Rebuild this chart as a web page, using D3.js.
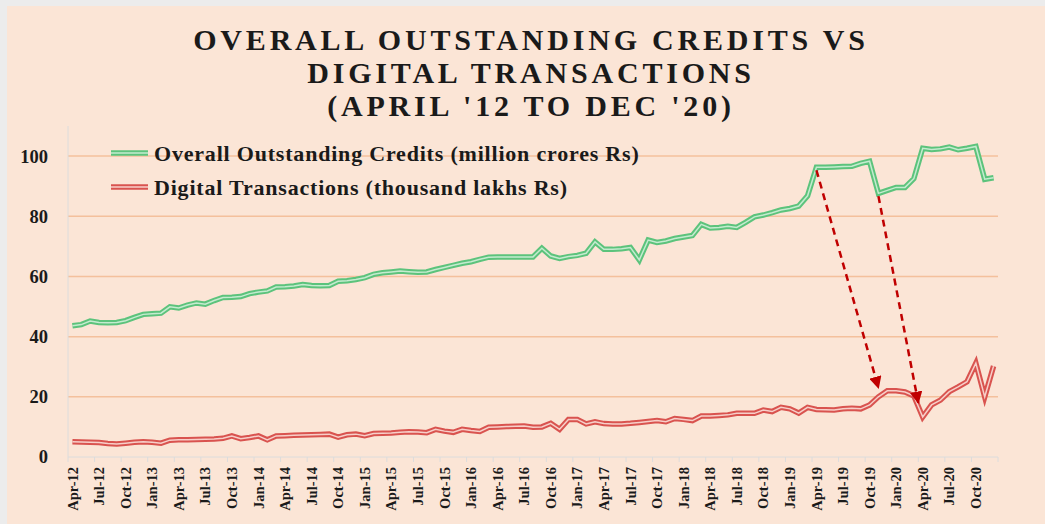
<!DOCTYPE html>
<html>
<head>
<meta charset="utf-8">
<script src="https://cdn.jsdelivr.net/npm/d3@7"></script>
<style>
  html, body { margin: 0; padding: 0; background: #ececec; }
  svg { display: block; }
  text { font-family: "Liberation Serif", "Times New Roman", serif; font-weight: bold; fill: #1a1a1a; }
</style>
</head>
<body>
<script>
// months Apr-12 .. Dec-20
const months = d3.timeMonths(new Date(2012, 3, 1), new Date(2021, 0, 1)).map(d3.timeFormat("%b-%y"));

const tickLabels = ["Apr-12", "Jul-12", "Oct-12", "Jan-13", "Apr-13", "Jul-13", "Oct-13", "Jan-14", "Apr-14",
    "Jul-14", "Oct-14", "Jan-15", "Apr-15", "Jul-15", "Oct-15", "Jan-16", "Apr-16", "Jul-16", "Oct-16",
    "Jan-17", "Apr-17", "Jul-17", "Oct-17", "Jan-18", "Apr-18", "Jul-18", "Oct-18", "Jan-19", "Apr-19",
    "Jul-19", "Oct-19", "Jan-20", "Apr-20", "Jul-20", "Oct-20"];

const yTicks = [0, 20, 40, 60, 80, 100];

const credits = [
    43.6, 44.0, 45.2, 44.7, 44.6, 44.7, 45.3, 46.4, 47.4, 47.6,
    47.8, 49.9, 49.5, 50.5, 51.2, 50.8, 52.0, 53.0, 53.1, 53.3,
    54.3, 54.8, 55.2, 56.5, 56.6, 56.8, 57.3, 57.0, 56.9, 57.0,
    58.4, 58.6, 59.0, 59.6, 60.7, 61.2, 61.5, 61.8, 61.6, 61.4,
    61.5, 62.3, 63.0, 63.7, 64.4, 64.9, 65.7, 66.4, 66.5, 66.5,
    66.5, 66.5, 66.5, 69.4, 66.8, 66.0, 66.6, 67.0, 67.7, 71.5,
    69.0, 69.0, 69.2, 69.6, 65.5, 72.1, 71.3, 71.8, 72.6, 73.1,
    73.6, 77.3, 76.1, 76.3, 76.7, 76.3, 78.0, 79.8, 80.4, 81.2,
    82.1, 82.6, 83.4, 86.8, 96.3, 96.3, 96.4, 96.5, 96.6, 97.6,
    98.3, 87.6, 88.6, 89.6, 89.6, 92.5, 102.6, 102.2, 102.4, 103.0,
    102.1, 102.6, 103.2, 92.3, 92.8
];

const digital = [
    5.1, 5.0, 4.9, 4.8, 4.5, 4.3, 4.6, 4.9, 5.1, 4.9,
    4.6, 5.6, 5.7, 5.7, 5.8, 5.9, 6.0, 6.2, 7.0, 6.1,
    6.5, 7.0, 5.7, 7.0, 7.1, 7.2, 7.3, 7.4, 7.5, 7.6,
    6.6, 7.4, 7.6, 7.1, 7.8, 7.9, 8.0, 8.2, 8.4, 8.3,
    8.1, 9.2, 8.6, 8.2, 9.2, 8.8, 8.5, 9.9, 10.0, 10.1,
    10.2, 10.3, 9.9, 10.0, 11.2, 9.2, 12.5, 12.5, 11.0, 11.7,
    11.1, 11.0, 11.0, 11.2, 11.5, 11.8, 12.1, 11.7, 12.8, 12.5,
    12.1, 13.6, 13.6, 13.8, 14.0, 14.5, 14.5, 14.5, 15.6, 15.1,
    16.5, 16.0, 14.6, 16.5, 15.8, 15.7, 15.6, 16.0, 16.2, 16.0,
    17.3, 20.0, 22.0, 22.0, 21.6, 20.3, 13.3, 17.3, 18.9, 21.7,
    23.3, 25.0, 31.2, 20.0, 30.2
];

// annotation arrows: [from month index, from value, to month index, to value]
const arrows = [
    [84.0, 95.3, 91.0, 23.0],
    [91.0, 86.7, 95.5, 18.0]
];

const seriesNames = ["Overall Outstanding Credits (million crores Rs)", "Digital Transactions (thousand lakhs Rs)"];
const titleLines = ["OVERALL OUTSTANDING CREDITS VS", "DIGITAL TRANSACTIONS", "(APRIL '12 TO DEC '20)"];

const w = 1045, h = 524;
const plotLeft = 68, plotRight = 998, plotTop = 126, plotBottom = 457;

const svg = d3.select("body").append("svg")
    .attr("width", w)
    .attr("height", h);

svg.append("rect")
    .attr("x", 7).attr("y", 6)
    .attr("width", w - 7).attr("height", h - 6)
    .attr("fill", "#fbe5d6");

const x = d3.scaleLinear()
    .domain([-0.5, months.length - 0.5])
    .range([plotLeft, plotRight]);

const y = d3.scaleLinear()
    .domain([0, 110])
    .range([plotBottom, plotTop]);

// title
svg.append("g").selectAll("text")
    .data(titleLines)
    .join("text")
    .attr("x", 531)
    .attr("y", (d, i) => 50 + i * 33)
    .attr("text-anchor", "middle")
    .attr("font-size", 30)
    .attr("letter-spacing", 3.8)
    .text(d => d);

// gridlines
svg.append("g").selectAll("line")
    .data(yTicks.filter(d => d > 0))
    .join("line")
    .attr("x1", plotLeft).attr("x2", plotRight)
    .attr("y1", d => y(d)).attr("y2", d => y(d))
    .attr("stroke", "#f4c09c")
    .attr("stroke-width", 1.5);

// axes lines
svg.append("line")
    .attr("x1", plotLeft).attr("x2", plotLeft)
    .attr("y1", plotTop).attr("y2", plotBottom)
    .attr("stroke", "#dcdcdc").attr("stroke-width", 1);

svg.append("line")
    .attr("x1", plotLeft).attr("x2", plotRight)
    .attr("y1", plotBottom).attr("y2", plotBottom)
    .attr("stroke", "#dcdcdc").attr("stroke-width", 1);

// y labels
svg.append("g").selectAll("text")
    .data(yTicks)
    .join("text")
    .attr("x", 48)
    .attr("y", d => y(d))
    .attr("dy", "0.35em")
    .attr("text-anchor", "end")
    .attr("font-size", 18.5)
    .text(d => d);

// x tick marks at category boundaries every 3 months
const tickIdx = d3.range(-0.5, months.length, 3);
svg.append("g").selectAll("line")
    .data(tickIdx)
    .join("line")
    .attr("x1", d => x(d)).attr("x2", d => x(d))
    .attr("y1", plotBottom).attr("y2", plotBottom + 5)
    .attr("stroke", "#dcdcdc");

// x labels
svg.append("g").selectAll("text")
    .data(tickLabels)
    .join("text")
    .attr("transform", d => `translate(${x(months.indexOf(d))},${plotBottom + 10}) rotate(-90)`)
    .attr("dy", "0.35em")
    .attr("text-anchor", "end")
    .attr("font-size", 14.5)
    .text(d => d);

const line = d3.line()
    .x((d, i) => x(i))
    .y(d => y(d));

function doubleLine(data, outer, inner) {
    svg.append("path")
        .datum(data)
        .attr("d", line)
        .attr("fill", "none")
        .attr("stroke", outer)
        .attr("stroke-width", 5.5)
        .attr("stroke-linejoin", "miter");
    svg.append("path")
        .datum(data)
        .attr("d", line)
        .attr("fill", "none")
        .attr("stroke", inner)
        .attr("stroke-width", 1.5)
        .attr("stroke-linejoin", "miter");
}

doubleLine(credits, "#5cc37c", "#c4ebcf");
doubleLine(digital, "#d9534f", "#f7cfc9");

// arrows
svg.append("defs").append("marker")
    .attr("id", "arrowhead")
    .attr("viewBox", "0 0 10 10")
    .attr("refX", 9).attr("refY", 5)
    .attr("markerWidth", 5).attr("markerHeight", 5)
    .attr("markerUnits", "strokeWidth")
    .attr("orient", "auto")
    .append("path")
    .attr("d", "M0,0L10,5L0,10Z")
    .attr("fill", "#c00000");

svg.append("g").selectAll("line")
    .data(arrows)
    .join("line")
    .attr("x1", d => x(d[0])).attr("y1", d => y(d[1]))
    .attr("x2", d => x(d[2])).attr("y2", d => y(d[3]))
    .attr("stroke", "#c00000")
    .attr("stroke-width", 2.5)
    .attr("stroke-dasharray", "7,5")
    .attr("marker-end", "url(#arrowhead)");

// legend
const legend = svg.append("g").selectAll("g")
    .data(seriesNames)
    .join("g")
    .attr("transform", (d, i) => `translate(111,${153 + i * 34})`);

legend.append("line")
    .attr("x1", 0).attr("x2", 37)
    .attr("stroke", (d, i) => i === 0 ? "#5cc37c" : "#d9534f")
    .attr("stroke-width", 5.5);
legend.append("line")
    .attr("x1", 0).attr("x2", 37)
    .attr("stroke", (d, i) => i === 0 ? "#c4ebcf" : "#f7cfc9")
    .attr("stroke-width", 1.5);

legend.append("text")
    .attr("x", 43)
    .attr("dy", "0.35em")
    .attr("font-size", 22)
    .attr("letter-spacing", 0.8)
    .text(d => d);
</script>
</body>
</html>
